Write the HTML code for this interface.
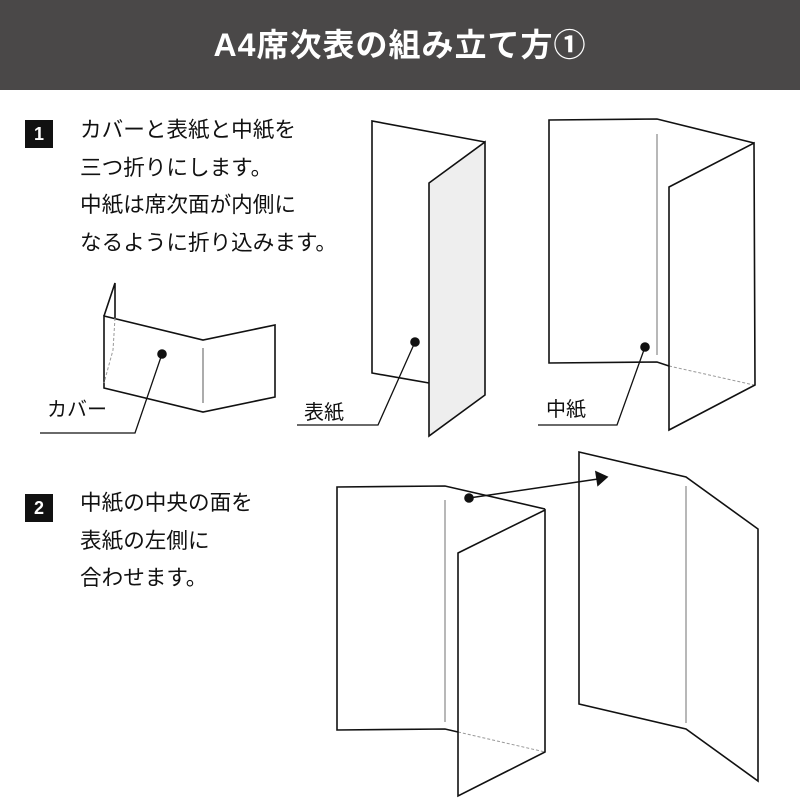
<!DOCTYPE html>
<html><head><meta charset="utf-8"><style>
body{margin:0;width:800px;height:800px;background:#fff;overflow:hidden;position:relative;font-family:"Liberation Sans","Noto Sans CJK JP",sans-serif;}
.hdr{position:absolute;left:0;top:0;width:800px;height:90px;background:#4a4848;color:#fff;font-weight:bold;font-size:32px;text-align:center;line-height:90px;letter-spacing:1px;}
.num{position:absolute;width:28px;height:28px;background:#111;color:#fff;font-weight:bold;font-size:18px;text-align:center;line-height:28px;}
.txt{position:absolute;font-size:21.6px;color:#111;line-height:37.5px;white-space:nowrap;}
.lbl{position:absolute;font-size:20px;color:#111;}
</style></head><body>
<div class="hdr">A4席次表の組み立て方①</div>
<div class="num" style="left:25px;top:120px">1</div>
<div class="txt" style="left:80px;top:111px">カバーと表紙と中紙を<br>三つ折りにします。<br>中紙は席次面が内側に<br>なるように折り込みます。</div>
<div class="num" style="left:25px;top:494px">2</div>
<div class="txt" style="left:80px;top:484px">中紙の中央の面を<br>表紙の左側に<br>合わせます。</div>
<div class="lbl" style="left:47px;top:393px">カバー</div>
<div class="lbl" style="left:304px;top:396px">表紙</div>
<div class="lbl" style="left:546px;top:393px">中紙</div>
<svg width="800" height="800" style="position:absolute;left:0;top:0" fill="none" stroke="#111" stroke-width="1.6">
<polyline points="104,316 115,283 115,318"/>
<polygon points="104,316 203,340 275,325 275,397 203,412 104,388" fill="#fff"/>
<polyline points="115,318 113,350 104,383" stroke="#999" stroke-width="1" stroke-dasharray="3,2"/>
<line x1="203" y1="348" x2="203" y2="403" stroke="#888" stroke-width="1.4"/>
<circle cx="162" cy="354" r="4" fill="#111"/>
<polyline points="162,354 135,433 40,433" stroke-width="1.3"/>
<polyline points="429,383 372,373 372,121 485,142" fill="#fff"/>
<polygon points="429,183 485,142 485,395 429,436" fill="#eeeeee"/>
<circle cx="415" cy="342" r="4" fill="#111"/>
<polyline points="415,342 378,425 297,425" stroke-width="1.3"/>
<polyline points="669,366 657,362 549,363 549,120 657,119 754,143"/>
<line x1="657" y1="134" x2="657" y2="355" stroke="#888" stroke-width="1.2"/>
<line x1="669" y1="366" x2="754" y2="385" stroke="#999" stroke-width="1" stroke-dasharray="3,2"/>
<polygon points="669,187 754,143 755,385 669,430"/>
<circle cx="645" cy="347" r="4" fill="#111"/>
<polyline points="645,347 617,425 538,425" stroke-width="1.3"/>
<polyline points="458,732 445,729 337,730 337,487 445,486 545,509"/>
<line x1="445" y1="500" x2="445" y2="722" stroke="#888" stroke-width="1.2"/>
<line x1="458" y1="732" x2="545" y2="752" stroke="#999" stroke-width="1" stroke-dasharray="3,2"/>
<polygon points="458,553 545,510 545,752 458,796"/>
<circle cx="469" cy="498" r="4" fill="#111"/>
<line x1="469" y1="498" x2="598" y2="479" stroke-width="1.5"/>
<polygon points="607,477 596,472 598,485" fill="#111"/>
<polygon points="579,452 686,477 758,529 758,781 686,729 579,704"/>
<line x1="686" y1="486" x2="686" y2="723" stroke="#888" stroke-width="1.2"/>
</svg>
</body></html>
